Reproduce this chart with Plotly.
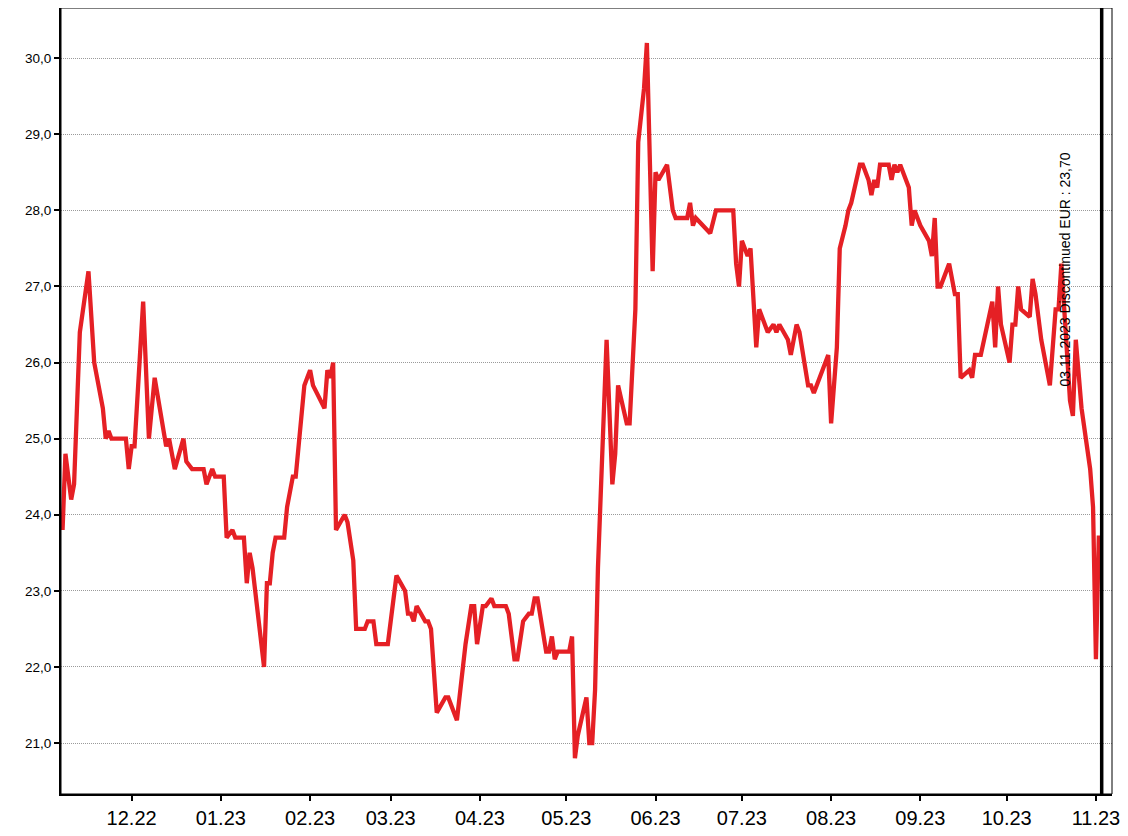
import plotly.graph_objects as go

dates = [
    "2022-11-07", "2022-11-08", "2022-11-10", "2022-11-11", "2022-11-13", "2022-11-16", "2022-11-18",
    "2022-11-21", "2022-11-22", "2022-11-23", "2022-11-24", "2022-11-29", "2022-11-30", "2022-12-01",
    "2022-12-02", "2022-12-05", "2022-12-07", "2022-12-09", "2022-12-13", "2022-12-14", "2022-12-16",
    "2022-12-19", "2022-12-20", "2022-12-22", "2022-12-26", "2022-12-27", "2022-12-29", "2022-12-30",
    "2023-01-02", "2023-01-03", "2023-01-05", "2023-01-06", "2023-01-09", "2023-01-10", "2023-01-11",
    "2023-01-12", "2023-01-16", "2023-01-17", "2023-01-18", "2023-01-19", "2023-01-20", "2023-01-23",
    "2023-01-24", "2023-01-26", "2023-01-27", "2023-01-30", "2023-01-31", "2023-02-01", "2023-02-02",
    "2023-02-06", "2023-02-07", "2023-02-08", "2023-02-09", "2023-02-10", "2023-02-13", "2023-02-14",
    "2023-02-16", "2023-02-17", "2023-02-20", "2023-02-21", "2023-02-23", "2023-02-24", "2023-02-28",
    "2023-03-01", "2023-03-03", "2023-03-06", "2023-03-07", "2023-03-08", "2023-03-09", "2023-03-10",
    "2023-03-13", "2023-03-14", "2023-03-15", "2023-03-17", "2023-03-20", "2023-03-21", "2023-03-24",
    "2023-03-27", "2023-03-29", "2023-03-30", "2023-03-31", "2023-04-02", "2023-04-03", "2023-04-05",
    "2023-04-06", "2023-04-10", "2023-04-11", "2023-04-13", "2023-04-14", "2023-04-16", "2023-04-18",
    "2023-04-19", "2023-04-20", "2023-04-21", "2023-04-24", "2023-04-25", "2023-04-26", "2023-04-27",
    "2023-04-28", "2023-05-02", "2023-05-03", "2023-05-04", "2023-05-05", "2023-05-08", "2023-05-09",
    "2023-05-10", "2023-05-11", "2023-05-12", "2023-05-13", "2023-05-15", "2023-05-17", "2023-05-18",
    "2023-05-19", "2023-05-22", "2023-05-23", "2023-05-25", "2023-05-26", "2023-05-28", "2023-05-29",
    "2023-05-31", "2023-06-01", "2023-06-02", "2023-06-05", "2023-06-07", "2023-06-08", "2023-06-12",
    "2023-06-13", "2023-06-14", "2023-06-15", "2023-06-20", "2023-06-22", "2023-06-28", "2023-06-29",
    "2023-06-30", "2023-07-01", "2023-07-03", "2023-07-04", "2023-07-06", "2023-07-07", "2023-07-10",
    "2023-07-12", "2023-07-13", "2023-07-14", "2023-07-17", "2023-07-18", "2023-07-20", "2023-07-21",
    "2023-07-24", "2023-07-25", "2023-07-26", "2023-07-31", "2023-08-01", "2023-08-03", "2023-08-04",
    "2023-08-06", "2023-08-07", "2023-08-08", "2023-08-11", "2023-08-12", "2023-08-14", "2023-08-15",
    "2023-08-16", "2023-08-17", "2023-08-18", "2023-08-21", "2023-08-22", "2023-08-23", "2023-08-24",
    "2023-08-25", "2023-08-28", "2023-08-29", "2023-08-30", "2023-09-01", "2023-09-04", "2023-09-05",
    "2023-09-06", "2023-09-07", "2023-09-08", "2023-09-11", "2023-09-13", "2023-09-14", "2023-09-15",
    "2023-09-18", "2023-09-19", "2023-09-20", "2023-09-22", "2023-09-26", "2023-09-27", "2023-09-28",
    "2023-09-29", "2023-10-02", "2023-10-03", "2023-10-04", "2023-10-05", "2023-10-06", "2023-10-09",
    "2023-10-10", "2023-10-11", "2023-10-13", "2023-10-16", "2023-10-18", "2023-10-19", "2023-10-20",
    "2023-10-23", "2023-10-24", "2023-10-25", "2023-10-27", "2023-10-30", "2023-10-31", "2023-11-01",
    "2023-11-02", "2023-11-03",
]

prices = [
    23.8, 24.8, 24.2, 24.4, 26.4, 27.2, 26.0,
    25.4, 25.0, 25.1, 25.0, 25.0, 24.6, 24.9,
    24.9, 26.8, 25.0, 25.8, 24.9, 25.0, 24.6,
    25.0, 24.7, 24.6, 24.6, 24.4, 24.6, 24.5,
    24.5, 23.7, 23.8, 23.7, 23.7, 23.1, 23.5,
    23.3, 22.0, 23.1, 23.1, 23.5, 23.7, 23.7,
    24.1, 24.5, 24.5, 25.7, 25.8, 25.9, 25.7,
    25.4, 25.9, 25.8, 26.0, 23.8, 24.0, 23.9,
    23.4, 22.5, 22.5, 22.6, 22.6, 22.3, 22.3,
    22.6, 23.2, 23.0, 22.7, 22.7, 22.6, 22.8,
    22.6, 22.6, 22.5, 21.4, 21.6, 21.6, 21.3,
    22.3, 22.8, 22.8, 22.3, 22.8, 22.8, 22.9,
    22.8, 22.8, 22.7, 22.1, 22.1, 22.6, 22.7,
    22.7, 22.9, 22.9, 22.2, 22.2, 22.4, 22.1,
    22.2, 22.2, 22.4, 20.8, 21.1, 21.6, 21.0,
    21.0, 21.7, 23.3, 24.3, 26.3, 24.4, 24.8,
    25.7, 25.2, 25.2, 26.7, 28.9, 29.6, 30.2,
    27.2, 28.5, 28.4, 28.6, 28.0, 27.9, 27.9,
    28.1, 27.8, 27.9, 27.7, 28.0, 28.0, 27.3,
    27.0, 27.6, 27.4, 27.5, 26.2, 26.7, 26.4,
    26.5, 26.4, 26.5, 26.3, 26.1, 26.5, 26.4,
    25.7, 25.7, 25.6, 26.1, 25.2, 26.2, 27.5,
    27.8, 28.0, 28.1, 28.6, 28.6, 28.4, 28.2,
    28.4, 28.3, 28.6, 28.6, 28.4, 28.6, 28.5,
    28.6, 28.3, 27.8, 28.0, 27.8, 27.6, 27.4,
    27.9, 27.0, 27.0, 27.3, 26.9, 26.9, 25.8,
    25.9, 25.8, 26.1, 26.1, 26.8, 26.2, 27.0,
    26.5, 26.0, 26.5, 26.5, 27.0, 26.7, 26.6,
    27.1, 26.9, 26.3, 25.7, 26.7, 26.7, 27.3,
    25.5, 25.3, 26.3, 25.4, 24.6, 24.1, 22.1,
    23.7, 23.7,
]

tick_dates = ["2022-12-01", "2023-01-01", "2023-02-01", "2023-03-01", "2023-04-01", "2023-05-01",
              "2023-06-01", "2023-07-01", "2023-08-01", "2023-09-01", "2023-10-01", "2023-11-01"]
tick_labels = ["12.22", "01.23", "02.23", "03.23", "04.23", "05.23",
               "06.23", "07.23", "08.23", "09.23", "10.23", "11.23"]

y_ticks = [21, 22, 23, 24, 25, 26, 27, 28, 29, 30]

end_date = "2023-11-03"
end_label = "03.11.2023 Discontinued EUR : 23,70"

FONT = "Liberation Sans, Arial, sans-serif"

fig = go.Figure()
fig.add_trace(go.Scatter(
    x=dates, y=prices, mode="lines",
    line=dict(color="#E52025", width=4.3),
    showlegend=False, hoverinfo="x+y",
))

fig.add_shape(type="line", xref="x", yref="paper", x0=end_date, x1=end_date, y0=0, y1=1,
              line=dict(color="black", width=3.5), layer="above")
fig.add_shape(type="rect", xref="paper", yref="paper", x0=0, x1=1, y0=0, y1=1,
              line=dict(color="black", width=1), layer="above")

fig.add_annotation(x=end_date, xref="x", y=0.667, yref="paper", text=end_label,
                   textangle=-90, showarrow=False, xshift=-37,
                   xanchor="center", yanchor="middle",
                   font=dict(family=FONT, size=14, color="black"))

# page body adds an 8px offset, so the figure is sized 8px smaller
fig.update_layout(
    width=1120, height=828,
    margin=dict(l=53, r=16, t=0, b=42),
    plot_bgcolor="white", paper_bgcolor="white",
    separators=",.",
    font=dict(family=FONT, color="black"),
)

fig.update_xaxes(
    type="date",
    range=["2022-11-06 11:00", "2023-11-06 14:00"],
    tickmode="array", tickvals=tick_dates, ticktext=tick_labels,
    ticks="outside", ticklen=5, tickwidth=1.5, tickcolor="black",
    showline=True, linecolor="black", linewidth=2,
    showgrid=False, zeroline=False,
    tickfont=dict(family=FONT, size=20, color="black"),
)

fig.update_yaxes(
    range=[20.33, 30.66],
    tickmode="array", tickvals=y_ticks, tickformat=".1f",
    ticks="outside", ticklen=5, tickwidth=1.5, tickcolor="black",
    showline=True, linecolor="black", linewidth=2,
    showgrid=True, gridcolor="#9a9a9a", gridwidth=1, griddash="1px,1px",
    zeroline=False,
    tickfont=dict(family=FONT, size=13.5, color="black"),
)

fig.write_html("out.html")
